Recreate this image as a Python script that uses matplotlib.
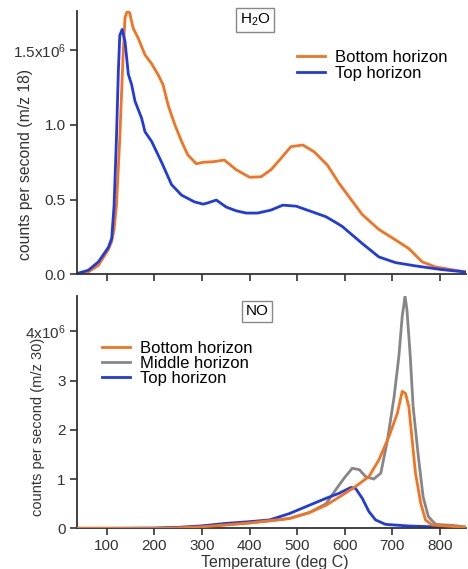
import matplotlib
matplotlib.use('Agg')
import matplotlib.pyplot as plt

plt.rcParams['font.family'] = ['Liberation Sans', 'DejaVu Sans']
plt.rcParams['mathtext.fontset'] = 'custom'
plt.rcParams['mathtext.rm'] = 'Liberation Sans'
plt.rcParams['mathtext.it'] = 'Liberation Sans'
plt.rcParams['mathtext.default'] = 'rm'

# H2O (m/z 18) traces
h2o_bottom_t = [37, 61, 82, 103, 110, 115, 120, 127, 134, 138, 143, 148, 155, 166, 180, 194, 208, 218,
                229, 243, 257, 270, 288, 302, 323, 347, 372, 400, 424, 445, 463, 487, 512, 536, 564,
                588, 609, 637, 672, 707, 735, 763, 791, 833, 855]
h2o_bottom_v = [0.003, 0.016, 0.06, 0.165, 0.22, 0.30, 0.46, 0.91, 1.47, 1.72, 1.765, 1.75, 1.65, 1.58,
                1.47, 1.41, 1.335, 1.27, 1.13, 1.0, 0.89, 0.80, 0.74, 0.75, 0.754, 0.765, 0.70, 0.65,
                0.653, 0.70, 0.765, 0.855, 0.866, 0.82, 0.73, 0.61, 0.52, 0.40, 0.30, 0.23, 0.172,
                0.083, 0.049, 0.027, 0.015]
h2o_top_t = [37, 61, 82, 103, 110, 115, 120, 124, 127, 132, 138, 145, 152, 159, 173, 180, 194, 215, 236,
             257, 284, 302, 309, 330, 351, 372, 393, 417, 445, 470, 498, 532, 561, 585, 595, 637, 672,
             707, 749, 805, 854]
h2o_top_v = [0.005, 0.027, 0.083, 0.18, 0.24, 0.46, 0.91, 1.36, 1.60, 1.64, 1.56, 1.34, 1.27, 1.16,
             1.045, 0.955, 0.89, 0.75, 0.60, 0.53, 0.485, 0.47, 0.475, 0.497, 0.45, 0.425, 0.41, 0.41,
             0.43, 0.463, 0.456, 0.418, 0.385, 0.34, 0.32, 0.206, 0.116, 0.078, 0.056, 0.031, 0.015]

# NO (m/z 30) traces
no_bottom_t = [37, 100, 200, 250, 300, 350, 400, 442, 484, 526, 561, 596, 623, 651, 672, 693, 711, 721,
               728, 735, 742, 749, 760, 770, 784, 812, 854]
no_bottom_v = [0, 0, 0, 0.01, 0.03, 0.07, 0.11, 0.155, 0.20, 0.32, 0.47, 0.68, 0.85, 1.05, 1.39, 1.86,
               2.34, 2.78, 2.74, 2.47, 1.79, 1.12, 0.51, 0.17, 0.067, 0.047, 0.02]
no_middle_t = [37, 100, 200, 250, 300, 350, 400, 442, 484, 526, 561, 581, 599, 616, 631, 644, 661, 676,
               690, 704, 714, 721, 727, 731, 738, 744, 755, 765, 776, 791, 826, 854]
no_middle_v = [0, 0, 0, 0.01, 0.03, 0.07, 0.11, 0.15, 0.20, 0.32, 0.50, 0.78, 1.02, 1.22, 1.19, 1.05,
               1.0, 1.12, 1.79, 2.67, 3.49, 4.3, 4.71, 4.44, 3.49, 2.47, 1.46, 0.64, 0.24, 0.08, 0.06,
               0.03]
no_top_t = [37, 100, 200, 250, 300, 350, 400, 442, 484, 526, 561, 588, 613, 623, 637, 651, 665, 686,
            735, 791, 854]
no_top_v = [0, 0, 0.005, 0.02, 0.05, 0.10, 0.135, 0.17, 0.30, 0.47, 0.61, 0.71, 0.83, 0.81, 0.61, 0.34,
            0.17, 0.08, 0.047, 0.03, 0.01]

orange = '#F5731F'
blue = '#1F3BE0'
gray = '#868686'
ink = '#333333'

fig = plt.figure(figsize=(4.68, 5.69), dpi=100)
ax1 = fig.add_axes([0.1645, 0.518, 0.831, 0.463])
ax2 = fig.add_axes([0.1645, 0.0715, 0.831, 0.4085])

ax1.plot(h2o_bottom_t, [v * 1e6 for v in h2o_bottom_v], color=orange, lw=2, label='Bottom horizon')
ax1.plot(h2o_top_t, [v * 1e6 for v in h2o_top_v], color=blue, lw=2, label='Top horizon')

ax2.plot(no_bottom_t, [v * 1e6 for v in no_bottom_v], color=orange, lw=2, label='Bottom horizon')
ax2.plot(no_middle_t, [v * 1e6 for v in no_middle_v], color=gray, lw=2, label='Middle horizon')
ax2.plot(no_top_t, [v * 1e6 for v in no_top_v], color=blue, lw=2, label='Top horizon')
# orange drawn on top of gray near the peak
ax2.lines[0].set_zorder(3)

for ax in (ax1, ax2):
    ax.set_xlim(37, 855)
    ax.spines['top'].set_visible(False)
    ax.spines['right'].set_visible(False)
    for s in ('left', 'bottom'):
        ax.spines[s].set_color(ink)
        ax.spines[s].set_linewidth(1.3)
    ax.tick_params(direction='out', length=5, width=1.2, color=ink,
                   labelsize=11, labelcolor=ink, pad=3)
    ax.set_xticks([100, 200, 300, 400, 500, 600, 700, 800])

ax1.set_ylim(0, 1.765e6)
ax1.set_yticks([0, 0.5e6, 1.0e6, 1.5e6])
ax1.set_yticklabels(['0.0', '0.5', '1.0', '1.5x10$^{6}$'])
ax1.tick_params(axis='x', labelbottom=False)
ax1.set_ylabel('counts per second (m/z 18)', fontsize=11.3, color=ink)
ax1.yaxis.set_label_coords(-0.113, 0.418)

ax2.set_ylim(0, 4.72e6)
ax2.set_yticks([0, 1e6, 2e6, 3e6, 4e6])
ax2.set_yticklabels(['0', '1', '2', '3', '4x10$^{6}$'])
ax2.set_ylabel('counts per second (m/z 30)', fontsize=10.5, color=ink)
ax2.yaxis.set_label_coords(-0.082, 0.435)
ax2.set_xlabel('Temperature (deg C)', fontsize=11.5, color=ink)
ax2.xaxis.set_label_coords(0.509, -0.115)

box = dict(boxstyle='square,pad=0.25', fc='white', ec='#888888', lw=1)
ax1.text(0.458, 0.966, 'H$_{2}$O', transform=ax1.transAxes, ha='center', va='center',
         fontsize=11, bbox=box)
ax2.text(0.463, 0.933, 'NO', transform=ax2.transAxes, ha='center', va='center',
         fontsize=11, bbox=box)

ax1.legend(loc='upper left', bbox_to_anchor=(0.566, 0.851), frameon=False, fontsize=12,
           borderpad=0, borderaxespad=0, handlelength=1.7, handletextpad=0.6, labelspacing=0.06)
ax2.legend(loc='upper left', bbox_to_anchor=(0.064, 0.806), frameon=False, fontsize=12,
           borderpad=0, borderaxespad=0, handlelength=1.7, handletextpad=0.6, labelspacing=0.0)

fig.savefig('out.png', dpi=100)
